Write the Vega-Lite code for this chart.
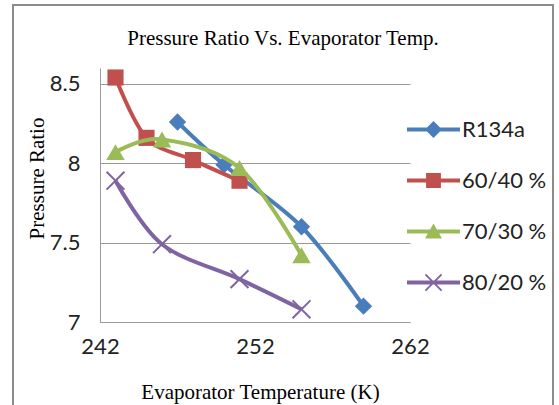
{
  "$schema": "https://vega.github.io/schema/vega-lite/v6.json",
  "width": 540,
  "height": 402,
  "autosize": {"type": "none"},
  "padding": {"left": 13, "top": 5, "right": 6, "bottom": -2},
  "background": "white",
  "title": {
    "text": "Pressure Ratio Vs. Evaporator Temp.",
    "anchor": "middle",
    "frame": "group",
    "offset": -55,
    "baseline": "middle",
    "font": "Liberation Serif",
    "fontSize": 21,
    "fontWeight": "normal",
    "color": "#000000"
  },
  "config": {
    "view": {"stroke": "#8c8c8c", "strokeWidth": 2},
    "legend": {
      "symbolSize": 2809,
      "symbolStrokeWidth": 0,
      "labelFont": "Lato",
      "labelFontSize": 22,
      "labelColor": "#222222",
      "labelOffset": 2,
      "rowPadding": 13,
      "padding": 0
    }
  },
  "data": {
    "values": [
      {"series": "R134a", "temperature": 247, "ratio": 8.26},
      {"series": "R134a", "temperature": 250, "ratio": 7.99},
      {"series": "R134a", "temperature": 255, "ratio": 7.6},
      {"series": "R134a", "temperature": 259, "ratio": 7.1},
      {"series": "60/40 %", "temperature": 243, "ratio": 8.54},
      {"series": "60/40 %", "temperature": 245, "ratio": 8.16},
      {"series": "60/40 %", "temperature": 248, "ratio": 8.02},
      {"series": "60/40 %", "temperature": 251, "ratio": 7.89},
      {"series": "70/30 %", "temperature": 243, "ratio": 8.07},
      {"series": "70/30 %", "temperature": 246, "ratio": 8.15},
      {"series": "70/30 %", "temperature": 251, "ratio": 7.97},
      {"series": "70/30 %", "temperature": 255, "ratio": 7.42},
      {"series": "80/20 %", "temperature": 243, "ratio": 7.89},
      {"series": "80/20 %", "temperature": 246, "ratio": 7.49},
      {"series": "80/20 %", "temperature": 251, "ratio": 7.27},
      {"series": "80/20 %", "temperature": 255, "ratio": 7.08}
    ]
  },
  "encoding": {
    "x": {
      "field": "temperature",
      "type": "quantitative",
      "scale": {"domain": [242, 262], "range": [87, 397], "nice": false, "zero": false},
      "axis": {
        "values": [242, 252, 262],
        "title": "Evaporator Temperature (K)",
        "offset": -85,
        "grid": false,
        "ticks": false,
        "domainColor": "#9a9a9a",
        "domainWidth": 1,
        "labelFont": "Lato",
        "labelFontSize": 22,
        "labelColor": "#222222",
        "labelPadding": 14,
        "labelFlush": false,
        "titleFont": "Liberation Serif",
        "titleFontSize": 21,
        "titleFontWeight": "normal",
        "titleColor": "#000000",
        "titleX": 247,
        "titleY": 70,
        "titleAlign": "center",
        "titleBaseline": "middle"
      }
    },
    "y": {
      "field": "ratio",
      "type": "quantitative",
      "scale": {"domain": [7, 8.6], "range": [317, 63], "nice": false, "zero": false},
      "axis": {
        "values": [7, 7.5, 8, 8.5],
        "format": "~g",
        "title": "Pressure Ratio",
        "offset": -87,
        "grid": true,
        "gridColor": "#9a9a9a",
        "gridWidth": 1,
        "ticks": false,
        "domainColor": "#9a9a9a",
        "domainWidth": 1,
        "labelFont": "Lato",
        "labelFontSize": 22,
        "labelColor": "#222222",
        "labelPadding": 20,
        "labelFlush": false,
        "titleFont": "Liberation Serif",
        "titleFontSize": 21,
        "titleFontWeight": "normal",
        "titleColor": "#000000",
        "titleX": -63,
        "titleY": 173,
        "titleAngle": -90,
        "titleAlign": "center",
        "titleBaseline": "middle"
      }
    }
  },
  "layer": [
    {
      "transform": [{"filter": "datum.series === 'R134a'"}],
      "layer": [
        {"mark": {"type": "line", "interpolate": "cardinal", "strokeWidth": 4, "color": "#4a7ebb"}},
        {"mark": {"type": "point", "shape": "diamond", "filled": true, "size": 300, "opacity": 1, "color": "#4a7ebb"}}
      ]
    },
    {
      "transform": [{"filter": "datum.series === '60/40 %'"}],
      "layer": [
        {"mark": {"type": "line", "interpolate": "cardinal", "strokeWidth": 4, "color": "#c0504d"}},
        {"mark": {"type": "point", "shape": "square", "filled": true, "size": 260, "opacity": 1, "color": "#c0504d"}}
      ]
    },
    {
      "transform": [{"filter": "datum.series === '70/30 %'"}],
      "layer": [
        {"mark": {"type": "line", "interpolate": "cardinal", "strokeWidth": 4, "color": "#9bbb59"}},
        {"mark": {"type": "point", "shape": "triangle-up", "filled": true, "size": 340, "opacity": 1, "color": "#9bbb59"}}
      ]
    },
    {
      "transform": [{"filter": "datum.series === '80/20 %'"}],
      "layer": [
        {"mark": {"type": "line", "interpolate": "cardinal", "strokeWidth": 4, "color": "#8064a2"}},
        {"mark": {"type": "point", "shape": "M-1,-1L1,1M-1,1L1,-1", "filled": false, "strokeWidth": 2, "size": 320, "opacity": 1, "color": "#8064a2"}}
      ]
    },
    {
      "mark": {"type": "point", "filled": true, "opacity": 0},
      "encoding": {
        "color": {
          "field": "series",
          "type": "nominal",
          "scale": {
            "domain": ["R134a", "60/40 %", "70/30 %", "80/20 %"],
            "range": ["#4a7ebb", "#c0504d", "#9bbb59", "#8064a2"]
          },
          "legend": {
            "title": null,
            "orient": "none",
            "legendX": 394,
            "legendY": 98,
            "encode": {"symbols": {"update": {"opacity": {"value": 1}}}}
          }
        },
        "shape": {
          "field": "series",
          "type": "nominal",
          "scale": {
            "domain": ["R134a", "60/40 %", "70/30 %", "80/20 %"],
            "range": [
              "M-1,-0.075H1V0.075H-1Z M0,-0.32L0.32,0L0,0.32L-0.32,0Z",
              "M-1,-0.075H1V0.075H-1Z M-0.28,-0.28H0.28V0.28H-0.28Z",
              "M-1,-0.075H1V0.075H-1Z M0,-0.3L0.32,0.26H-0.32Z",
              "M-1,-0.075H1V0.075H-1Z M-0.33,-0.28L-0.28,-0.33L0.33,0.28L0.28,0.33Z M0.28,-0.33L0.33,-0.28L-0.28,0.33L-0.33,0.28Z"
            ]
          },
          "legend": {
            "title": null,
            "orient": "none",
            "legendX": 394,
            "legendY": 98,
            "encode": {"symbols": {"update": {"opacity": {"value": 1}}}}
          }
        }
      }
    }
  ]
}
